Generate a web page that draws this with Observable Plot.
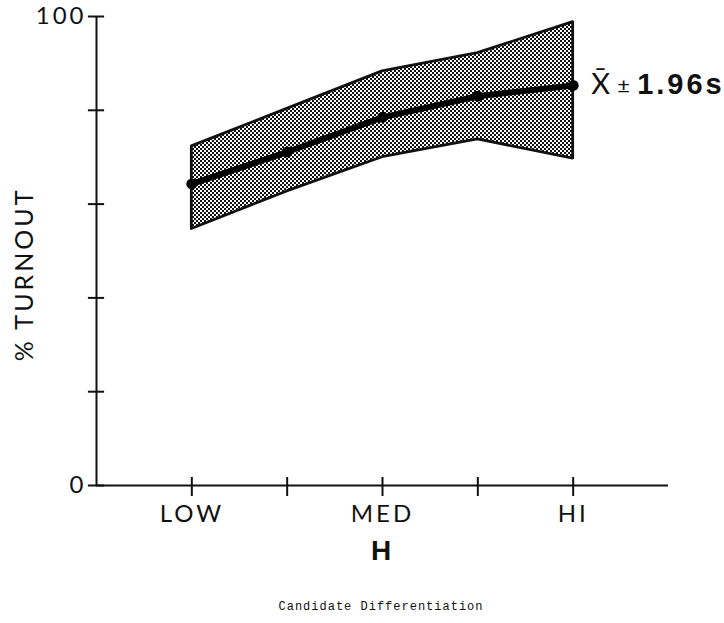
<!DOCTYPE html>
<html>
<head>
<meta charset="utf-8">
<script src="https://cdn.jsdelivr.net/npm/d3@7"></script>
<script src="https://cdn.jsdelivr.net/npm/@observablehq/plot@0.6"></script>
<style>
  body { margin: 0; background: #fff; }
  #chart svg { display: block; }
  #caption { width: 686px; padding-left: 38px; padding-top: 4px; text-align: center;
    font-family: "Liberation Mono", "DejaVu Sans Mono", monospace; font-size: 12px; letter-spacing: 1px; color: #111; }
</style>
</head>
<body>
<div id="chart"></div>
<div id="caption">Candidate Differentiation</div>
<script>
const levels = [1, 2, 3, 4, 5];
const xTickLabels = ["LOW", "", "MED", "", "HI"];
const meanTurnout = [64.3, 71.1, 78.5, 83.0, 85.3];
const upperBound = [72.3, 80.3, 88.3, 92.2, 98.8];
const lowerBound = [54.7, 62.7, 70.0, 73.8, 69.7];
const yTicks = [0, 20, 40, 60, 80, 100];
const yLabels = {0: "0", 100: "100"};

const data = levels.map((x, i) => ({x, mean: meanTurnout[i], upper: upperBound[i], lower: lowerBound[i]}));
const last = [data[data.length - 1]];

const svg = Plot.plot({
  width: 724,
  height: 596,
  marginLeft: 96,
  marginRight: 56,
  marginTop: 16,
  marginBottom: 111,
  style: {fontFamily: "Lato, 'DejaVu Sans', sans-serif", color: "#111", letterSpacing: "3px"},
  x: {domain: [0, 6], axis: null},
  y: {domain: [0, 100], axis: null},
  marks: [
    Plot.areaY(data, {x: "x", y1: "lower", y2: "upper", fill: "url(#stipple)", stroke: "#111", strokeWidth: 2.8, strokeLinejoin: "round"}),
    Plot.line(data, {x: "x", y: "mean", stroke: "#000", strokeWidth: 6}),
    Plot.dot(data, {x: "x", y: "mean", r: 5.5, fill: "#000"}),
    Plot.ruleX([0], {stroke: "#111", strokeWidth: 2}),
    Plot.ruleY([0], {stroke: "#111", strokeWidth: 2}),
    Plot.ruleY(yTicks, {x1: () => -0.085, x2: () => 0.085, stroke: "#111", strokeWidth: 2}),
    Plot.ruleX(levels, {y1: () => -2.35, y2: () => 1.7, stroke: "#111", strokeWidth: 2}),
    Plot.axisY({ticks: yTicks, tickSize: 0, tickPadding: 10, tickFormat: d => yLabels[d] ?? "", fontSize: 24, label: null}),
    Plot.axisX({ticks: levels, tickSize: 0, tickPadding: 19, tickFormat: d => xTickLabels[levels.indexOf(d)], fontSize: 24, label: null}),
    Plot.text(["% TURNOUT"], {text: d => d, y: () => 45, frameAnchor: "left", textAnchor: "middle", dx: -72, rotate: -90, fontSize: 25}),
    Plot.text(["H"], {text: d => d, x: () => 3, frameAnchor: "bottom", dy: 74, fontSize: 28, fontWeight: "bold", fontFamily: "'Liberation Sans', sans-serif"}),
    Plot.text(last, {x: "x", y: "mean", text: () => "X\u0304", textAnchor: "start", dx: 18, dy: -1, fontSize: 29}),
    Plot.text(last, {x: "x", y: "mean", text: () => "±", textAnchor: "start", dx: 44, dy: 1, fontSize: 22}),
    Plot.text(last, {x: "x", y: "mean", text: () => "1.96s", textAnchor: "start", dx: 64, dy: -1, fontSize: 29, fontWeight: "bold", fontFamily: "'Liberation Sans', sans-serif"})
  ]
});

const defs = d3.select(svg).insert("defs", ":first-child");
const pat = defs.append("pattern").attr("id", "stipple").attr("patternUnits", "userSpaceOnUse")
  .attr("width", 4).attr("height", 4);
pat.append("rect").attr("width", 4).attr("height", 4).attr("fill", "#fff");
pat.append("rect").attr("width", 2).attr("height", 2).attr("fill", "#111");
pat.append("rect").attr("x", 2).attr("y", 2).attr("width", 2).attr("height", 2).attr("fill", "#111");

document.getElementById("chart").appendChild(svg);
</script>
</body>
</html>
